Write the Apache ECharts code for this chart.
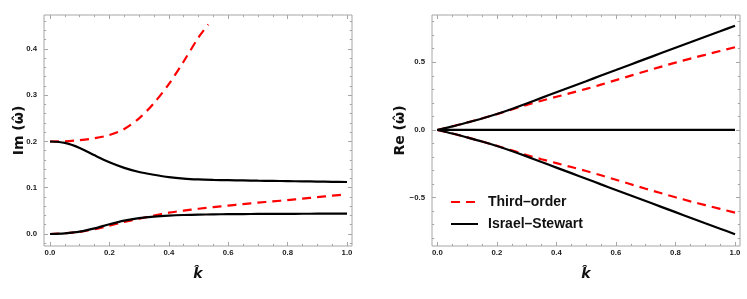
<!DOCTYPE html>
<html>
<head>
<meta charset="utf-8">
<script src="https://cdn.jsdelivr.net/npm/echarts@6/dist/echarts.min.js"></script>
<style>html,body{margin:0;padding:0;background:#fff}#c{width:747px;height:299px}</style>
</head>
<body>
<div id="c"></div>
<script>
// ---- data ----
const kGrid = [0,0.05,0.1,0.15,0.2,0.25,0.3,0.35,0.4,0.45,0.5,0.55,0.6,0.65,0.7,0.75,0.8,0.85,0.9,0.95,1.0];
// Im(omega) panel
const imIsUpper = [0.2,0.197,0.186,0.170,0.155,0.143,0.134,0.128,0.123,0.1198,0.118,0.117,0.1163,0.1157,0.1152,0.1148,0.1143,0.1138,0.1133,0.1128,0.1124];
const imIsLower = [0,0.0015,0.005,0.012,0.021,0.0288,0.0342,0.0376,0.0397,0.041,0.0418,0.0424,0.0428,0.0431,0.0433,0.0435,0.0436,0.0437,0.0438,0.0439,0.044];
const imToLower = [0,0.0015,0.0045,0.0105,0.018,0.026,0.033,0.040,0.046,0.0505,0.0545,0.058,0.0615,0.0647,0.0677,0.0705,0.0732,0.0765,0.0795,0.0828,0.0858];
const kToUpper  = [0,0.05,0.1,0.15,0.2,0.25,0.3,0.35,0.4,0.45,0.5,0.533];
const imToUpper = [0.2,0.2005,0.203,0.207,0.214,0.227,0.250,0.283,0.324,0.373,0.425,0.453];
// Re(omega) panel
const reIsUpper = [0,0.026,0.055,0.085,0.118,0.155,0.195,0.237,0.278,0.319,0.36,0.402,0.443,0.484,0.525,0.566,0.607,0.648,0.689,0.729,0.77];
const reToUpper = [0,0.026,0.055,0.085,0.117,0.151,0.185,0.216,0.245,0.274,0.303,0.335,0.368,0.401,0.434,0.466,0.497,0.527,0.555,0.583,0.611];
const reZero    = [0,0,0,0,0,0,0,0,0,0,0,0,0,0,0,0,0,0,0,0,0];
// tick labels
const kTicks  = [0,0.2,0.4,0.6,0.8,1.0];
const imTicks = [0,0.1,0.2,0.3,0.4];
const reTicks = [-0.5,0,0.5];
const seriesNames = ['Third\u2013order','Israel\u2013Stewart'];

// ---- helpers ----
function range(a,b,s){const r=[];for(let v=a;v<=b+1e-9;v+=s)r.push(Math.round(v*1000)/1000);return r;}
const kMinor = range(0,1,0.05);
const imMinor = range(-0.02,0.46,0.02);
const reMinor = range(-0.8,0.8,0.1);
const frameColor = '#a6a6a6';
const fmt = v => (v<0?'\u2212':'') + Math.abs(v).toFixed(1);

function axesFor(isX, grid, min, max, majors, minors){
  const pos = isX ? ['bottom','top'] : ['left','right'];
  const out = [];
  pos.forEach((p,pi)=>{
    [[majors,4,true],[minors,2.2,false]].forEach(([vals,len,isMajor])=>{
      out.push({
        type:'value', gridIndex:grid, position:p, min:min, max:max,
        axisLine:{show:false, onZero:false}, splitLine:{show:false},
        axisTick:{show:true, inside:true, length:len, customValues:vals, lineStyle:{color:frameColor,width:1}},
        axisLabel:{show: pi===0 && isMajor, customValues:vals, formatter:fmt,
          fontSize:7.8, fontWeight:'bold', color:'#1a1a1a', fontFamily:'Liberation Sans, Arial, sans-serif',
          margin: isX ? 3 : 7}
      });
    });
  });
  return out;
}

const xAxes = [].concat(
  axesFor(true,0,-0.0202,1.0168,kTicks,kMinor),
  axesFor(true,1,-0.018,1.0168,kTicks,kMinor)
);
const yAxes = [].concat(
  axesFor(false,0,-0.026,0.4735,imTicks,imMinor),
  axesFor(false,1,-0.857,0.849,reTicks,reMinor)
);
// axis names on the labelled axes
const nameFont = {fontSize:14, fontWeight:'bold', color:'#111', fontFamily:'DejaVu Sans, Liberation Sans, sans-serif'};
xAxes[0].name = xAxes[4].name = 'k\u0302';
[xAxes[0],xAxes[4]].forEach(a=>{a.nameLocation='middle';a.nameGap=21;a.nameMoveOverlap=false;a.nameTextStyle=Object.assign({fontStyle:'italic'},nameFont);});
yAxes[0].name = 'Im (\u03C9\u0302)';
yAxes[4].name = 'Re (\u03C9\u0302)';
yAxes[0].nameGap = 18; yAxes[4].nameGap = 25;
[yAxes[0],yAxes[4]].forEach(a=>{a.nameLocation='middle';a.nameRotate=90;a.nameMoveOverlap=false;a.nameTextStyle=nameFont;});

const pairs = (xs,ys,sign=1)=>xs.map((x,i)=>[x,sign*ys[i]]);
const red = {color:'#ff0000', width:2.2, type:[9,6]};
const blk = {color:'#000000', width:2.2, type:'solid'};
function line(name, xi, yi, data, ls){
  return {type:'line', name:name, xAxisIndex:xi, yAxisIndex:yi, data:data, symbol:'none',
    showSymbol:false, smooth:0.3, lineStyle:ls, itemStyle:{color:ls.color}, animation:false, silent:true};
}
const series = [
  line(seriesNames[0],0,0,pairs(kToUpper,imToUpper),red),
  line(seriesNames[0],0,0,pairs(kGrid,imToLower),red),
  line(seriesNames[1],0,0,pairs(kGrid,imIsUpper),blk),
  line(seriesNames[1],0,0,pairs(kGrid,imIsLower),blk),
  line(seriesNames[0],4,4,pairs(kGrid,reToUpper),red),
  line(seriesNames[0],4,4,pairs(kGrid,reToUpper,-1),red),
  line(seriesNames[1],4,4,pairs(kGrid,reIsUpper),blk),
  line(seriesNames[1],4,4,pairs(kGrid,reIsUpper,-1),blk),
  line(seriesNames[1],4,4,pairs(kGrid,reZero),blk)
];

const chart = echarts.init(document.getElementById('c'), null, {renderer:'canvas'});
chart.setOption({
  animation:false,
  grid:[
    {left:44, top:15, width:308, height:231, show:true, borderColor:frameColor, borderWidth:1, backgroundColor:'transparent'},
    {left:432, top:15, width:308, height:231, show:true, borderColor:frameColor, borderWidth:1, backgroundColor:'transparent'}
  ],
  xAxis:xAxes, yAxis:yAxes,
  legend:{show:true, orient:'vertical', left:450, top:195, padding:0, itemWidth:27, itemHeight:14, itemGap:8,
    data:seriesNames, selectedMode:false,
    itemStyle:{color:'transparent', borderWidth:0, opacity:0},
    textStyle:{fontSize:14, fontWeight:'bold', color:'#111', fontFamily:'Liberation Sans, Arial, sans-serif', padding:[0,0,0,5]}},
  series:series
});
</script>
</body>
</html>
